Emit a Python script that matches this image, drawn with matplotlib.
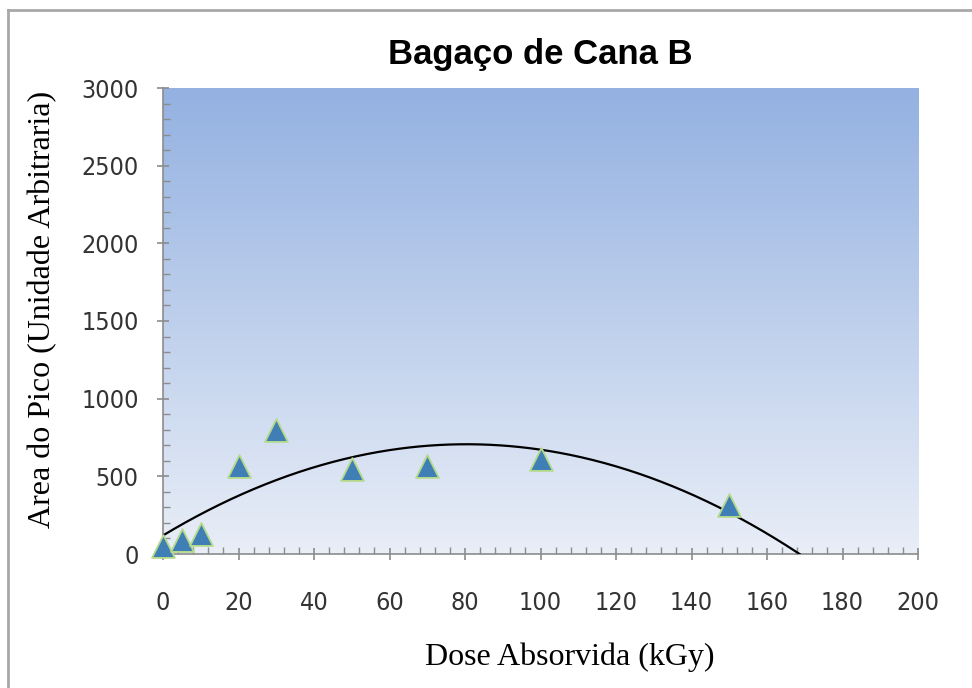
import matplotlib.pyplot as plt
import numpy as np
from matplotlib.lines import Line2D

# Data
dose = [0, 5, 10, 20, 30, 50, 70, 100, 150]
area = [50, 90, 130, 566, 800, 547, 566, 611, 315]

x_ticks = [0, 20, 40, 60, 80, 100, 120, 140, 160, 180, 200]
y_ticks = [0, 500, 1000, 1500, 2000, 2500, 3000]

fig = plt.figure(figsize=(9.72, 6.88), dpi=100)
ax = fig.add_axes([163 / 972, 1 - 554 / 688, (918 - 163) / 972, (554 - 88) / 688])

# background gradient of the plot area
grad = np.linspace(0, 1, 256).reshape(-1, 1)
top = np.array([0x93, 0xb1, 0xe1]) / 255
bottom = np.array([0xe9, 0xee, 0xf7]) / 255
img = top + (bottom - top) * grad[:, :, None]
ax.imshow(img, extent=[0, 1, 0, 1], transform=ax.transAxes, aspect='auto', zorder=0)

# quadratic trend line (least squares fit, like the spreadsheet trendline)
coef = np.polyfit(dose, area, 2)
xs = np.linspace(0, 200, 600)
ys = np.polyval(coef, xs)
keep = ys >= 0
ax.plot(xs[keep], ys[keep], color='black', linewidth=1.6, zorder=3)

ax.scatter(dose, area, marker='^', s=270, color='#3f7fb5', edgecolors='#b5d98a',
           linewidths=1.3, zorder=4, clip_on=False)

ax.set_xlim(0, 200)
ax.set_ylim(0, 3000)
ax.set_xticks(x_ticks)
ax.set_yticks(y_ticks)
ax.set_xticks(np.arange(0, 201, 4), minor=True)
ax.set_yticks(np.arange(0, 3001, 100), minor=True)

for s in ['top', 'right']:
    ax.spines[s].set_visible(False)
for s in ['left', 'bottom']:
    ax.spines[s].set_color('#8c8c8c')
    ax.spines[s].set_linewidth(1.2)

ax.tick_params(which='major', direction='inout', length=9, width=1.2, color='#8c8c8c',
               labelsize=18, labelcolor='#333333')
ax.tick_params(axis='x', which='major', pad=22)
ax.tick_params(axis='y', which='major', pad=13)
ax.tick_params(which='minor', direction='in', length=5, width=1.0, color='#8c8c8c')
for lab in ax.get_xticklabels() + ax.get_yticklabels():
    lab.set_fontstretch('condensed')

ax.set_xlabel('Dose Absorvida (kGy)', family='Liberation Serif', fontsize=23)
ax.xaxis.set_label_coords(0.539, -0.189)
ax.set_ylabel('Area do Pico (Unidade Arbitraria)', family='Liberation Serif', fontsize=23)
ax.yaxis.set_label_coords(-0.14, 0.524)
ax.text(0.5, 1.071, 'Bagaço de Cana B', transform=ax.transAxes, ha='center', va='center',
        family='Liberation Sans', fontweight='bold', fontsize=25)

# outer chart border (left and top only visible in the crop)
fig.add_artist(Line2D([8 / 972, 8 / 972], [0, 1 - 10 / 688], color='#a8a8a8', linewidth=2,
                      transform=fig.transFigure))
fig.add_artist(Line2D([8 / 972, 1], [1 - 10 / 688, 1 - 10 / 688], color='#a8a8a8', linewidth=2,
                      transform=fig.transFigure))

fig.savefig('out.png', dpi=100)
